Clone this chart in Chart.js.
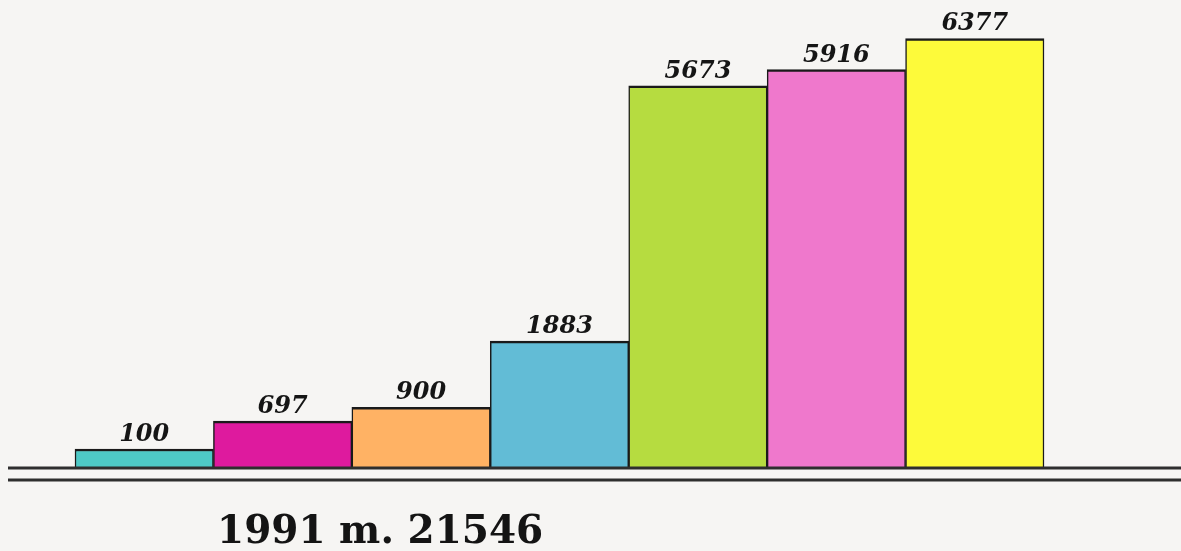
<!DOCTYPE html>
<html>
<head>
<meta charset="utf-8">
<script src="https://cdn.jsdelivr.net/npm/chart.js@4"></script>
<style>
	html, body { margin: 0; padding: 0; background: #f6f5f3; }
	#wrap { width: 1181px; height: 551px; position: relative; }
</style>
</head>
<body>
<div id="wrap"><canvas id="barChart"></canvas></div>
<script>
const categories = ["A", "B", "C", "D", "E", "F", "G"];
const values = [100, 697, 900, 1883, 5673, 5916, 6377];
const barColors = ["#4ec9c6", "#de1a9e", "#ffb264", "#62bcd6", "#b6dc40", "#ef78cc", "#fdfa3a"];
const titleText = "1991 m. 21546";

// value labels above bars, double baseline and the year caption
const decorations = {
	id: "decorations",
	afterDatasetsDraw(chart) {
		const ctx = chart.ctx;
		const meta = chart.getDatasetMeta(0);
		ctx.save();
		ctx.fillStyle = "#151515";
		ctx.font = "bold italic 24px 'DejaVu Serif'";
		ctx.textAlign = "center";
		ctx.textBaseline = "alphabetic";
		meta.data.forEach((bar, i) => {
			ctx.fillText(String(values[i]), bar.x, bar.y - 8);
		});

		const base = chart.scales.y.getPixelForValue(0);
		ctx.strokeStyle = "#2e2e2e";
		ctx.lineWidth = 3;
		ctx.beginPath();
		ctx.moveTo(8, base);
		ctx.lineTo(chart.width, base);
		ctx.moveTo(8, base + 12);
		ctx.lineTo(chart.width, base + 12);
		ctx.stroke();

		ctx.font = "bold 39px 'DejaVu Serif'";
		ctx.textAlign = "left";
		ctx.fillStyle = "#141414";
		ctx.fillText(titleText, 217, 543);
		ctx.restore();
	},
};

new Chart(document.getElementById("barChart"), {
	type: "bar",
	data: {
		labels: categories,
		datasets: [
			{
				data: values,
				backgroundColor: barColors,
				borderColor: "#1a1a1a",
				borderWidth: { top: 2.5, left: 1.5, right: 1.5, bottom: 0 },
				borderSkipped: false,
				barPercentage: 1,
				categoryPercentage: 1,
				minBarLength: 19,
				clip: 6,
			},
		],
	},
	options: {
		responsive: true,
		maintainAspectRatio: false,
		animation: false,
		layout: {
			padding: { left: 75, right: 137, top: 10, bottom: 83 },
		},
		plugins: {
			legend: { display: false },
			tooltip: { enabled: false },
			title: { display: false },
		},
		scales: {
			x: { display: false },
			y: { display: false, min: 0, max: 6800 },
		},
	},
	plugins: [decorations],
});
</script>
</body>
</html>
